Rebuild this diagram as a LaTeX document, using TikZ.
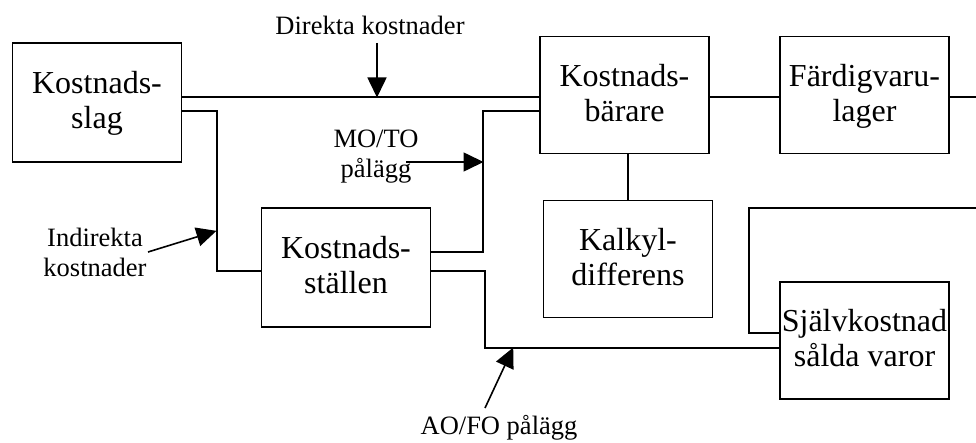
\documentclass[tikz,border=0pt]{standalone}
\usepackage{fontspec}
\setmainfont{Liberation Serif}
\usetikzlibrary{arrows.meta}

\tikzset{
  box/.style={draw, line width=1.6pt, rectangle, inner sep=0pt,
    minimum width=169pt, minimum height=117pt, align=center,
    font=\fontsize{32}{35}\selectfont},
  wire/.style={line width=1.6pt},
  feed/.style={line width=1.6pt, -{Triangle[length=20pt,width=19pt]}, shorten >=-0.5pt},
  lbl/.style={align=center, inner sep=0pt, font=\fontsize{26.5}{30}\selectfont}
}
% two-line box caption, set a little above the box centre
\newcommand{\boxlines}[2]{#1\\#2\\[-30pt]}

\begin{document}
\begin{tikzpicture}[x=1pt, y=-1pt]
\useasboundingbox (0,0) rectangle (976,443);

% cost flow boxes
\node[box, minimum height=119pt] (kslag)  at (97,102.5)  {\boxlines{Kostnads-}{slag}};
\node[box] (kbar)   at (624.5,95)  {\boxlines{Kostnads-}{bärare}};
\node[box] (fvl)    at (864.5,95)  {\boxlines{Färdigvaru-}{lager}};
\node[box, minimum height=119pt] (kstall) at (346,267.5) {\boxlines{Kostnads-}{ställen}};
\node[box] (kdiff)  at (628,259)   {\boxlines{Kalkyl-}{differens}};
\node[box] (sjalv)  at (864.5,340.5) {\boxlines{Självkostnad}{sålda varor}};

% routing levels and bends
\coordinate (yA) at (0,97);
\coordinate (yB) at (0,111);
\coordinate (yC) at (0,271);
\coordinate (yD) at (0,252);
\coordinate (j1) at (217,111);
\coordinate (j2) at (217,271);
\coordinate (j3) at (483,252);
\coordinate (j4) at (483,111);
\coordinate (j5) at (485,271);
\coordinate (j6) at (485,348);
\coordinate (outA) at (976,97);
\coordinate (inB) at (976,208);
\coordinate (j7) at (749,208);
\coordinate (j8) at (749,333);

% direct costs
\draw[wire] (kslag.east |- yA) -- (kbar.west |- yA);
% indirect costs via cost centres
\draw[wire] (kslag.east |- yB) -- (j1) -- (j2) -- (kstall.west |- yC);
\draw[wire] (kstall.east |- yD) -- (j3) -- (j4) -- (kbar.west |- yB);
\draw[wire] (kstall.east |- yC) -- (j5) -- (j6) -- (sjalv.west |- j6);
% product flow
\draw[wire] (kbar.east |- yA) -- (fvl.west |- yA);
\draw[wire] (fvl.east |- yA) -- (outA);
\draw[wire] (kdiff.north |- kbar.south) -- (kdiff.north);
\draw[wire] (inB) -- (j7) -- (j8) -- (sjalv.west |- j8);

% labels with feed arrows
\node[lbl] (direkta) at (370,25) {Direkta kostnader};
\coordinate (dtip) at (377,97);
\draw[feed] (377,43) -- (dtip);

\node[lbl] (moto) at (376,157) {MO/TO\\pålägg};
\draw[feed] (406,162) -- (j4 |- 0,162);

\node[lbl] (indir) at (95,252) {Indirekta\\kostnader};
\draw[feed] (148,252) -- (216,231);

\node[lbl] (aofo) at (499,428) {AO/FO pålägg};
\draw[feed] (485,408) -- (513,348);
\end{tikzpicture}
\end{document}
